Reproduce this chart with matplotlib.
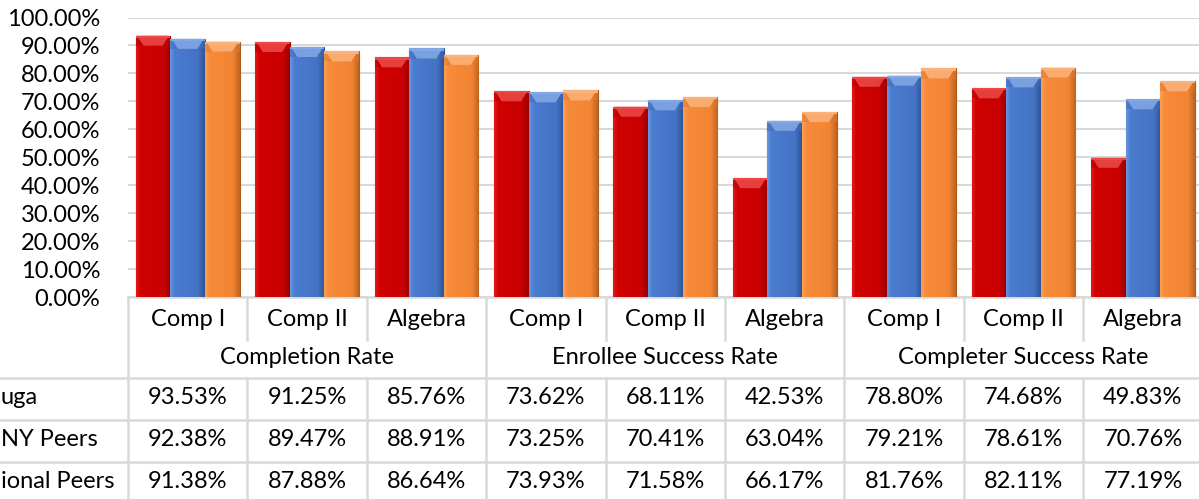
import matplotlib
matplotlib.use("Agg")
import matplotlib.pyplot as plt
import numpy as np
from matplotlib import transforms
from matplotlib.patches import Polygon
from matplotlib.lines import Line2D
from matplotlib.colors import LinearSegmentedColormap

# ---------------- data ----------------
courses = ["Comp I", "Comp II", "Algebra", "Comp I", "Comp II", "Algebra",
           "Comp I", "Comp II", "Algebra"]
groups = ["Completion Rate", "Enrollee Success Rate", "Completer Success Rate"]
# row headers as visible in the (left-cropped) reference
row_labels = ["uga", "NY Peers", "ional Peers"]
cayuga = [93.53, 91.25, 85.76, 73.62, 68.11, 42.53, 78.80, 74.68, 49.83]
suny_peers = [92.38, 89.47, 88.91, 73.25, 70.41, 63.04, 79.21, 78.61, 70.76]
national_peers = [91.38, 87.88, 86.64, 73.93, 71.58, 66.17, 81.76, 82.11, 77.19]
y_ticks = [0, 10, 20, 30, 40, 50, 60, 70, 80, 90, 100]

series_values = [cayuga, suny_peers, national_peers]
grad_colors = [["#E21A1A", "#D00000", "#C80000", "#9A0000"],
               ["#6A95DE", "#4A7CCF", "#4573C6", "#2E5597"],
               ["#FBA055", "#F88B3A", "#F28534", "#C0641E"]]
edge_colors = ["#8E0000", "#2F5597", "#B05A1A"]
bevel_light = ["#EE4A4A", "#86A9E6", "#FDB47C"]
bevel_dark = ["#B80000", "#3F6BBA", "#E07A2C"]

FONT = "Lato"
plt.rcParams["font.family"] = [FONT, "DejaVu Sans"]
FS = 17

W, H = 1199, 499
fig = plt.figure(figsize=(W / 100, H / 100), dpi=100)
fig.patch.set_facecolor("white")

ax_left, ax_right = 128, 1199
y0_px, y100_px = 297, 17.5
cat_w = 119.4
ax = fig.add_axes([ax_left / W, (H - y0_px) / H, (ax_right - ax_left) / W,
                   (y0_px - y100_px) / H])
n = len(courses)
xmax = (ax_right - ax_left) / cat_w
for s in ax.spines.values():
    s.set_visible(False)
ax.yaxis.grid(True, color="#D9D9D9", linewidth=1.5)
ax.set_axisbelow(True)

bw = 0.29
offsets = [-bw, 0, bw]
bevel = 3.6  # data units
grad = np.linspace(0, 1, 64).reshape(1, -1)
for k, vals in enumerate(series_values):
    cmap = LinearSegmentedColormap.from_list(f"g{k}", list(zip([0, 0.12, 0.8, 1.0],
                                                               grad_colors[k])))
    xs = [i + 0.5 + offsets[k] for i in range(n)]
    bars = ax.bar(xs, vals, width=bw, color=grad_colors[k][1],
                  edgecolor=edge_colors[k], linewidth=0.8, zorder=3)
    for x, v, b in zip(xs, vals, bars):
        l, r = x - bw / 2, x + bw / 2
        im = ax.imshow(grad, cmap=cmap, extent=[l, r, 0, v], aspect="auto",
                       zorder=3.5, interpolation="bicubic")
        im.set_clip_path(b)
        inset = bw * 0.22
        ax.add_patch(Polygon([(l, v), (r, v), (r, v - bevel), (l, v - bevel)],
                             closed=True, facecolor=bevel_dark[k],
                             edgecolor="none", alpha=0.55, zorder=4))
        ax.add_patch(Polygon([(l + 0.01, v), (r - 0.01, v), (r - inset, v - bevel),
                              (l + inset, v - bevel)],
                             closed=True, facecolor=bevel_light[k],
                             edgecolor="none", alpha=0.85, zorder=4.1))
        ax.add_patch(Polygon([(l, v), (r, v), (r, v - bevel * 0.22),
                              (l, v - bevel * 0.22)],
                             closed=True, facecolor=bevel_light[k],
                             edgecolor="none", alpha=0.9, zorder=4.2))

ax.set_xlim(0, xmax)
ax.set_ylim(0, 100)
ax.set_yticks(y_ticks)
ax.set_yticklabels([f"{v:.2f}%" for v in y_ticks], fontsize=FS, color="#000000")
ax.tick_params(axis="y", length=0, pad=20)
ax.set_xticks([])

# ---------------- data table ----------------
bt = transforms.blended_transform_factory(ax.transData, fig.transFigure)
def fy(px):
    return (H - px) / H

line_c = "#D9D9D9"
lw = 1.8
ax.add_line(Line2D([0, n], [fy(y0_px), fy(y0_px)], transform=bt, color=line_c,
                   lw=lw, clip_on=False, zorder=2))
for ypx in [378, 420, 462]:
    fig.add_artist(Line2D([0, 1], [fy(ypx), fy(ypx)], transform=fig.transFigure,
                          color=line_c, lw=lw))
for k in range(0, n + 1):
    if k % 3 == 0:
        segs = [(y0_px, H)]
    else:
        segs = [(y0_px, 340), (378, H)]
    for a, b in segs:
        ax.add_line(Line2D([k, k], [fy(a), fy(b)], transform=bt, color=line_c,
                           lw=lw, clip_on=False))

for i, c in enumerate(courses):
    ax.text(i + 0.5, fy(320), c, transform=bt, ha="center", va="center",
            fontsize=FS, clip_on=False)
for g, name in enumerate(groups):
    ax.text(g * 3 + 1.5, fy(358), name, transform=bt, ha="center", va="center",
            fontsize=FS, clip_on=False)
row_y = [398, 440, 481]
row_x = [1, 1, 1]
for r, (name, vals) in enumerate(zip(row_labels, series_values)):
    fig.text(row_x[r] / W, fy(row_y[r]), name, ha="left", va="center", fontsize=FS)
    for i, v in enumerate(vals):
        ax.text(i + 0.5, fy(row_y[r]), f"{v:.2f}%", transform=bt, ha="center",
                va="center", fontsize=FS, clip_on=False)

fig.savefig("out.png", dpi=100)
